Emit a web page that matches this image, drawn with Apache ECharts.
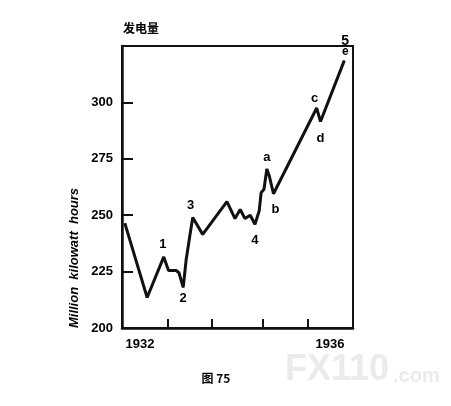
<!DOCTYPE html>
<html><head><meta charset="utf-8">
<script src="https://cdn.jsdelivr.net/npm/echarts@6/dist/echarts.min.js"></script>
<style>html,body{margin:0;padding:0;background:#fff}#c{width:451px;height:406px}</style>
</head><body><div id="c"></div>
<script>
// time in fractional years, output in million kWh
const years = [1931.68,1932.15,1932.50,1932.60,1932.76,1932.82,1932.91,1932.97,1933.05,1933.11,1933.32,1933.83,1934.00,1934.11,1934.21,1934.32,1934.42,1934.51,1934.55,1934.61,1934.67,1934.72,1934.81,1935.72,1935.80,1936.30];
const values = [246.5,213.5,231.5,225.5,225.5,224.5,218,230,241,249,241.5,256,248.5,252.5,248.5,250,246,252,260,261.5,270.5,267.5,259.5,297.5,291.5,318.5];
const waveLabels = {2:'1',6:'2',9:'3',16:'4',20:'a',22:'b',23:'c',24:'d',25:'{f|5}\n{g|e}'};
const labelBelow = {6:true,16:true,22:true,24:true};
const labelShift = {2:[-1,0],6:[0,-1],9:[-2,1],16:[0,4],20:[0,1],22:[2,4],23:[-2,3],24:[0,5],25:[1,0]};
const yTickLabels = [200,225,250,275,300];
const xTickLabels = [1932,1936];
const xTicks = [1932.59,1933.52,1934.59,1935.54];

const lineData = years.map((x,i)=>[x, values[i]]);
const labelData = Object.keys(waveLabels).map(k=>{
  const i = +k;
  return {value:[years[i], values[i]], label:{show:true, formatter: waveLabels[i], offset: labelShift[i]||[0,0],
    position: labelBelow[i]?'bottom':'top', distance: i===25?3:(labelBelow[i]?6:7)}};
});

const chart = echarts.init(document.getElementById('c'));
chart.setOption({
  animation:false,
  grid:{left:122, top:46, width:231, height:282, show:true, borderColor:'#111', borderWidth:2},
  xAxis:{type:'value', min:1931.621, max:1936.484,
    axisLine:{lineStyle:{color:'#111', width:2.5}},
    axisTick:{show:true, inside:true, length:9, customValues:xTicks, lineStyle:{color:'#111', width:2}},
    axisLabel:{customValues:xTickLabels, formatter:(v)=>String(Math.round(v)), color:'#000', fontSize:13, fontWeight:'bold', fontFamily:'Liberation Sans', margin:10},
    splitLine:{show:false}},
  yAxis:{type:'value', min:200, max:325,
    axisLine:{show:true, lineStyle:{color:'#111', width:2.5}},
    axisTick:{show:true, inside:true, length:11, customValues:[225,250,275,300], lineStyle:{color:'#111', width:2}},
    axisLabel:{customValues:yTickLabels, color:'#000', fontSize:13, fontWeight:'bold', fontFamily:'Liberation Sans', margin:9},
    splitLine:{show:false}},
  graphic:[
    {type:'text', left:123, top:22, style:{text:'发电量', font:'bold 12px "Noto Sans CJK SC"', fill:'#000'}},
    {type:'text', x:74, y:258, rotation:Math.PI/2, style:{text:'Million  kilowatt  hours', font:'italic bold 13px "Liberation Sans"', fill:'#000', align:'center', verticalAlign:'middle'}},
    {type:'text', x:216, y:378, style:{text:'图 75', font:'bold 12px "Noto Sans CJK SC"', fill:'#000', align:'center', verticalAlign:'middle'}},
    {type:'text', x:285, y:370, z:-1, style:{text:'FX110', font:'bold 36px "Liberation Sans"', fill:'#ebebeb', verticalAlign:'middle'}},
    {type:'text', x:393, y:376, z:-1, style:{text:'.com', font:'bold 20px "Liberation Sans"', fill:'#ebebeb', verticalAlign:'middle'}}
  ],
  series:[
    {type:'line', data:lineData, showSymbol:false, lineStyle:{color:'#111', width:3}, z:5},
    {type:'scatter', data:labelData, symbolSize:1, itemStyle:{color:'#111', opacity:1}, z:4,
      label:{show:true, color:'#000', opacity:1, fontSize:13, fontWeight:'bold', lineHeight:11, fontFamily:'Liberation Sans',
        rich:{f:{fontSize:14, fontWeight:'bold', color:'#000', lineHeight:12, fontFamily:'Liberation Sans'},
              g:{fontSize:12, fontWeight:'bold', color:'#000', lineHeight:10, fontFamily:'Liberation Sans'}}}}
  ]
});
</script></body></html>
